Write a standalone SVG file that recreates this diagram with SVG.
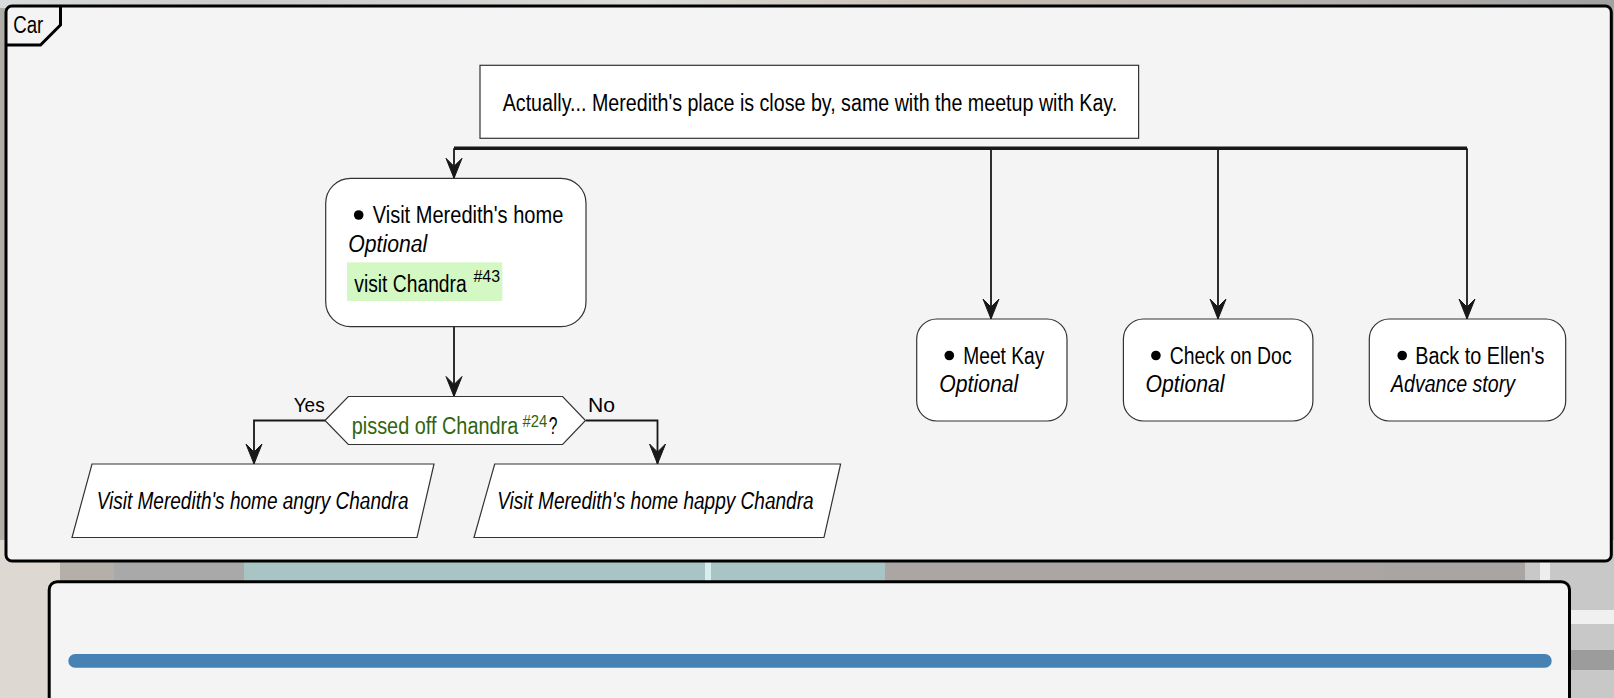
<svg xmlns="http://www.w3.org/2000/svg" width="1614" height="698" viewBox="0 0 1614 698">
<style>
.t{font-family:"Liberation Sans Narrow","Liberation Sans",Arial,sans-serif;font-size:23px;fill:#000}
.i{font-style:italic}
.sup{font-size:16px}
.g{fill:#2f6410}
.lbl{font-size:21px}
.node{fill:#fff;stroke:#333;stroke-width:1.2}
.conn{fill:none;stroke:#181818;stroke-width:1.8}
.bar{fill:none;stroke:#181818;stroke-width:3.5}
.panel{fill:#f4f4f4;stroke:#000;stroke-width:3}
</style>
<defs>
<marker id="arr" markerUnits="userSpaceOnUse" viewBox="-21 -10 22 20" refX="0" refY="0" markerWidth="22" markerHeight="20" orient="auto">
<path d="M0,0 L-20,-8 L-12,0 L-20,8 Z" fill="#181818" stroke="#181818" stroke-width="1"/>
</marker>
<linearGradient id="bgtop" x1="0" y1="0" x2="1" y2="0">
<stop offset="0" stop-color="#d9dcdc"/>
<stop offset="0.15" stop-color="#c9ccca"/>
<stop offset="0.4" stop-color="#dcdcd8"/>
<stop offset="0.6" stop-color="#c8beb2"/>
<stop offset="0.85" stop-color="#b3afab"/>
<stop offset="1" stop-color="#a2a2a2"/>
</linearGradient>
</defs>
<g id="background">
<rect x="0" y="0" width="1614" height="698" fill="#b0aca8"/>
<rect x="0" y="0" width="1614" height="8" fill="url(#bgtop)"/>
<rect x="0" y="540" width="60" height="158" fill="#ddd9d2"/>
<rect x="60" y="540" width="54" height="60" fill="#b5afaa"/>
<rect x="114" y="540" width="130" height="60" fill="#a9a9a9"/>
<rect x="244" y="540" width="641" height="60" fill="#a9c4c5"/>
<rect x="705" y="540" width="6" height="60" fill="#d8eeee"/>
<rect x="885" y="540" width="500" height="60" fill="#aba6a3"/>
<rect x="1385" y="540" width="140" height="60" fill="#a8a5a3"/>
<rect x="1525" y="540" width="89" height="158" fill="#c8c8c8"/>
<rect x="1540" y="540" width="10" height="60" fill="#eeeeee"/>
<rect x="1570" y="610" width="44" height="14" fill="#f0f0f0"/>
<rect x="1570" y="650" width="44" height="20" fill="#9c9c9c"/>
</g>
<g id="panel-car">
<rect class="panel" x="6" y="6" width="1605.3" height="555" rx="6"/>
<path d="M6,45 L40.5,45 L60.5,25 L60.5,6" fill="none" stroke="#000" stroke-width="3"/>
<text class="t" x="13.3" y="33.3" textLength="30" lengthAdjust="spacingAndGlyphs">Car</text>
</g>
<g id="panel-bottom">
<rect class="panel" x="49.2" y="581.7" width="1520.3" height="140" rx="8"/>
<rect x="68.3" y="654" width="1483.4" height="13.7" rx="6.8" fill="#4682b4"/>
</g>
<g id="connectors">
<path class="bar" d="M454,148.3 L1467,148.3"/>
<path class="conn" d="M454,148.3 L454,178.3" marker-end="url(#arr)"/>
<path class="conn" d="M991,148.3 L991,319" marker-end="url(#arr)"/>
<path class="conn" d="M1218,148.3 L1218,319" marker-end="url(#arr)"/>
<path class="conn" d="M1467,148.3 L1467,319" marker-end="url(#arr)"/>
<path class="conn" d="M454,326.7 L454,396.5" marker-end="url(#arr)"/>
<path class="conn" d="M325,420.5 L254,420.5 L254,464" marker-end="url(#arr)"/>
<path class="conn" d="M586,420.5 L657.5,420.5 L657.5,464" marker-end="url(#arr)"/>
<text class="t lbl" x="293.7" y="412" textLength="31" lengthAdjust="spacingAndGlyphs">Yes</text>
<text class="t lbl" x="588" y="412" textLength="27" lengthAdjust="spacingAndGlyphs">No</text>
</g>
<g id="node-intro">
<rect class="node" x="480" y="65.3" width="658.6" height="73"/>
<text class="t" x="502.7" y="110.7" textLength="614.5" lengthAdjust="spacingAndGlyphs">Actually... Meredith's place is close by, same with the meetup with Kay.</text>
</g>
<g id="node-meredith">
<rect class="node" x="325.7" y="178.3" width="260.3" height="148.4" rx="25"/>
<circle cx="358.7" cy="215" r="4.8" fill="#000"/>
<text class="t" x="372.7" y="223.3" textLength="190.6" lengthAdjust="spacingAndGlyphs">Visit Meredith's home</text>
<text class="t i" x="348.3" y="251.7" textLength="79" lengthAdjust="spacingAndGlyphs">Optional</text>
<rect x="347" y="262.3" width="155.3" height="38.7" fill="#d4f8c3"/>
<text class="t"><tspan x="354.3" y="291.7" textLength="112.4" lengthAdjust="spacingAndGlyphs">visit Chandra</tspan><tspan class="sup" x="473.5" y="281.7" textLength="26.5" lengthAdjust="spacingAndGlyphs">#43</tspan></text>
</g>
<g id="node-decision">
<polygon class="node" points="325,420.5 348.3,396.5 562.6,396.5 585.5,420.5 562.6,444.5 348.3,444.5"/>
<text class="t"><tspan class="g" x="351.8" y="434.3" textLength="166.4" lengthAdjust="spacingAndGlyphs">pissed off Chandra</tspan><tspan class="sup g" x="522.5" y="426.7" textLength="24.7" lengthAdjust="spacingAndGlyphs">#24</tspan><tspan x="548.8" y="434.3" textLength="8.7" lengthAdjust="spacingAndGlyphs">?</tspan></text>
</g>
<g id="node-angry">
<polygon class="node" points="92,464 434,464 417,537.5 72,537.5"/>
<text class="t i" x="96.7" y="509.3" textLength="311.8" lengthAdjust="spacingAndGlyphs">Visit Meredith's home angry Chandra</text>
</g>
<g id="node-happy">
<polygon class="node" points="494.7,464 840.6,464 824,537.5 474,537.5"/>
<text class="t i" x="497.2" y="509.3" textLength="316.4" lengthAdjust="spacingAndGlyphs">Visit Meredith's home happy Chandra</text>
</g>
<g id="node-kay">
<rect class="node" x="916.7" y="319" width="150.3" height="102" rx="20"/>
<circle cx="949.3" cy="355.5" r="4.8" fill="#000"/>
<text class="t" x="963.3" y="364" textLength="81" lengthAdjust="spacingAndGlyphs">Meet Kay</text>
<text class="t i" x="939.3" y="392" textLength="79" lengthAdjust="spacingAndGlyphs">Optional</text>
</g>
<g id="node-doc">
<rect class="node" x="1123.4" y="319" width="189.5" height="102" rx="20"/>
<circle cx="1155.9" cy="355.5" r="4.8" fill="#000"/>
<text class="t" x="1169.8" y="364" textLength="121.8" lengthAdjust="spacingAndGlyphs">Check on Doc</text>
<text class="t i" x="1145.5" y="392" textLength="79" lengthAdjust="spacingAndGlyphs">Optional</text>
</g>
<g id="node-ellen">
<rect class="node" x="1369.3" y="319" width="196.4" height="102" rx="20"/>
<circle cx="1402.2" cy="355.5" r="4.8" fill="#000"/>
<text class="t" x="1415.2" y="364" textLength="129.3" lengthAdjust="spacingAndGlyphs">Back to Ellen's</text>
<text class="t i" x="1391" y="392" textLength="124" lengthAdjust="spacingAndGlyphs">Advance story</text>
</g>
</svg>
